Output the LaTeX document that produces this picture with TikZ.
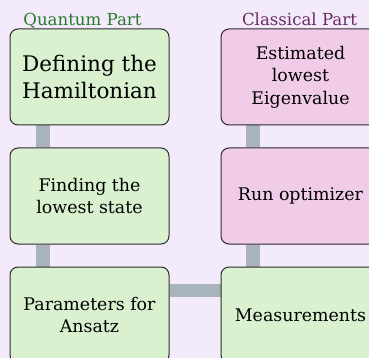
\documentclass[tikz,border=0pt]{standalone}
\usepackage{fontspec}
\setmainfont{DejaVu Serif}
\usetikzlibrary{backgrounds}
\definecolor{bgc}{HTML}{F3EAFB}
\definecolor{qfill}{HTML}{D9F1CF}
\definecolor{cfill}{HTML}{F1CCE8}
\definecolor{linkc}{HTML}{A9B3BC}
\definecolor{qtext}{HTML}{2A7A2E}
\definecolor{ctext}{HTML}{6A2A5E}
\definecolor{edgec}{HTML}{2B2B2B}
\tikzset{
  stepbox/.style={draw=edgec, line width=1pt, rounded corners=8pt,
    minimum width=159pt, minimum height=96pt, align=center, inner sep=0pt,
    font=\fontsize{17.4}{22.5}\selectfont},
  qbox/.style={stepbox, fill=qfill},
  cbox/.style={stepbox, fill=cfill},
  bigtext/.style={font=\fontsize{21.5}{27}\selectfont},
  link/.style={draw=linkc, line width=14pt},
  parttitle/.style={font=\fontsize{16.6}{19}\selectfont, anchor=base, inner sep=0pt}
}
\begin{document}
\begin{tikzpicture}[x=1pt,y=-1pt]
\useasboundingbox (0,0) rectangle (369,358);
\begin{scope}[on background layer]
\fill[bgc] (0,0) rectangle (369,358);
\end{scope}
\clip (0,0) rectangle (369,358);
\node[qbox, bigtext] (L1) at (89.5,77) {Defining the\\Hamiltonian};
\node[qbox] (L2) at (89.5,196) {Finding the\\lowest state};
\node[qbox] (L3) at (89.5,315) {Parameters for\\Ansatz};
\node[cbox] (R1) at (300.5,77) {Estimated\\lowest\\Eigenvalue};
\node[cbox] (R2) at (300.5,196) {Run optimizer};
\node[qbox] (R3) at (300.5,315) {Measurements};
\node[parttitle, text=qtext] (QT) at (82.5,26) {Quantum Part};
\node[parttitle, text=ctext] (CT) at (299.5,26) {Classical Part};
\begin{scope}[on background layer]
\draw[link] ([xshift=33pt]L1.south west) -- ([xshift=33pt]L2.north west);
\draw[link] ([xshift=33pt]L2.south west) -- ([xshift=33pt]L3.north west);
\draw[link] ([xshift=32.5pt]R1.south west) -- ([xshift=32.5pt]R2.north west);
\draw[link] ([xshift=32.5pt]R2.south west) -- ([xshift=32.5pt]R3.north west);
\draw[link, line width=13pt] ([yshift=24.5pt]L3.east) -- ([yshift=24.5pt]R3.west);
\end{scope}
\end{tikzpicture}
\end{document}
